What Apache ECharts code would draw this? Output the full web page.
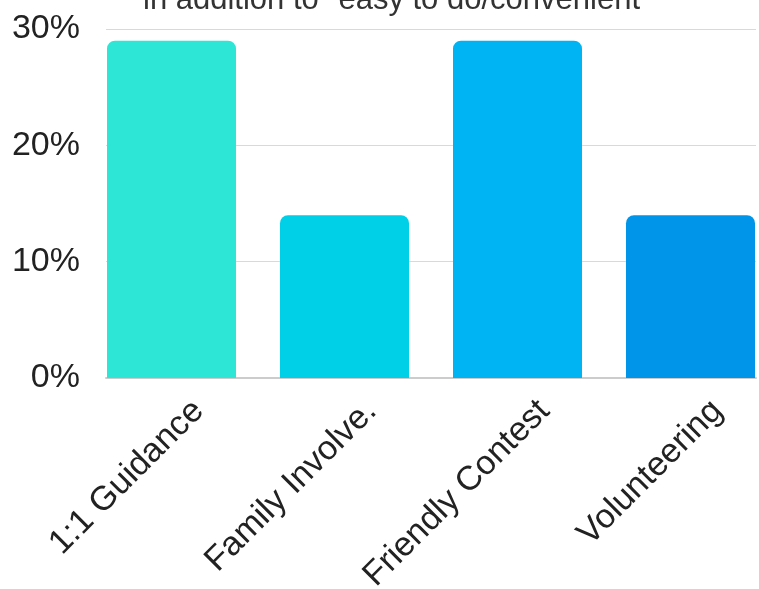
<!DOCTYPE html>
<html>
<head>
<meta charset="utf-8">
<script src="https://cdn.jsdelivr.net/npm/echarts@6/dist/echarts.min.js"></script>
<style>html,body{margin:0;padding:0;background:#fff;}#c{width:759px;height:589px;}</style>
</head>
<body>
<div id="c"></div>
<script>
var titleText = 'in addition to "easy to do/convenient"';
var categories = ['1:1 Guidance', 'Family Involve.', 'Friendly Contest', 'Volunteering'];
var values = [29, 14, 29, 14];
var barColors = ['#2EE6D6', '#00CFE8', '#00B4F4', '#0095E8'];
var yTicks = [0, 10, 20, 30];

var yMin = yTicks[0], yMax = yTicks[yTicks.length - 1];
var chart = echarts.init(document.getElementById('c'));
chart.setOption({
  animation: false,
  title: {
    text: titleText,
    left: 138,
    top: -20,
    textStyle: { fontFamily: 'Liberation Sans', fontSize: 31, fontWeight: 'normal', color: '#333' }
  },
  grid: [
    { left: 106, right: 3, top: 29, bottom: 211, containLabel: false, outerBoundsMode: 'none' },
    { left: 85, width: 692, top: 29, bottom: 211, containLabel: false, outerBoundsMode: 'none' }
  ],
  xAxis: [{
    gridIndex: 0,
    type: 'category',
    data: categories,
    axisLine: { show: true, lineStyle: { color: '#ccc', width: 2 } },
    axisTick: { show: false },
    axisLabel: { show: false }
  }, {
    gridIndex: 1,
    type: 'category',
    data: categories,
    axisLine: { show: false },
    axisTick: { show: false },
    axisLabel: {
      rotate: 45, interval: 0, margin: 1,
      align: 'right', verticalAlign: 'top', lineHeight: 76,
      fontFamily: 'Liberation Sans', fontSize: 34, color: '#222'
    }
  }],
  yAxis: [{
    gridIndex: 0,
    type: 'value',
    min: yMin, max: yMax, interval: 10,
    axisLine: { show: false },
    axisTick: { show: false },
    splitLine: { lineStyle: { color: '#d9d9d9', width: 1 } },
    axisLabel: { margin: 26, padding: [4, 0, 0, 0], fontFamily: 'Liberation Sans', fontSize: 34, color: '#222', formatter: '{value}%' }
  }, {
    gridIndex: 1,
    type: 'value',
    min: yMin, max: yMax, interval: 10,
    show: false,
    splitLine: { show: false }
  }],
  series: [{
    type: 'bar',
    xAxisIndex: 1,
    yAxisIndex: 1,
    data: values.map(function (v, i) { return { value: v, itemStyle: { color: barColors[i] } }; }),
    barWidth: 129,
    itemStyle: { borderRadius: [8, 8, 0, 0] }
  }]
});
</script>
</body>
</html>
